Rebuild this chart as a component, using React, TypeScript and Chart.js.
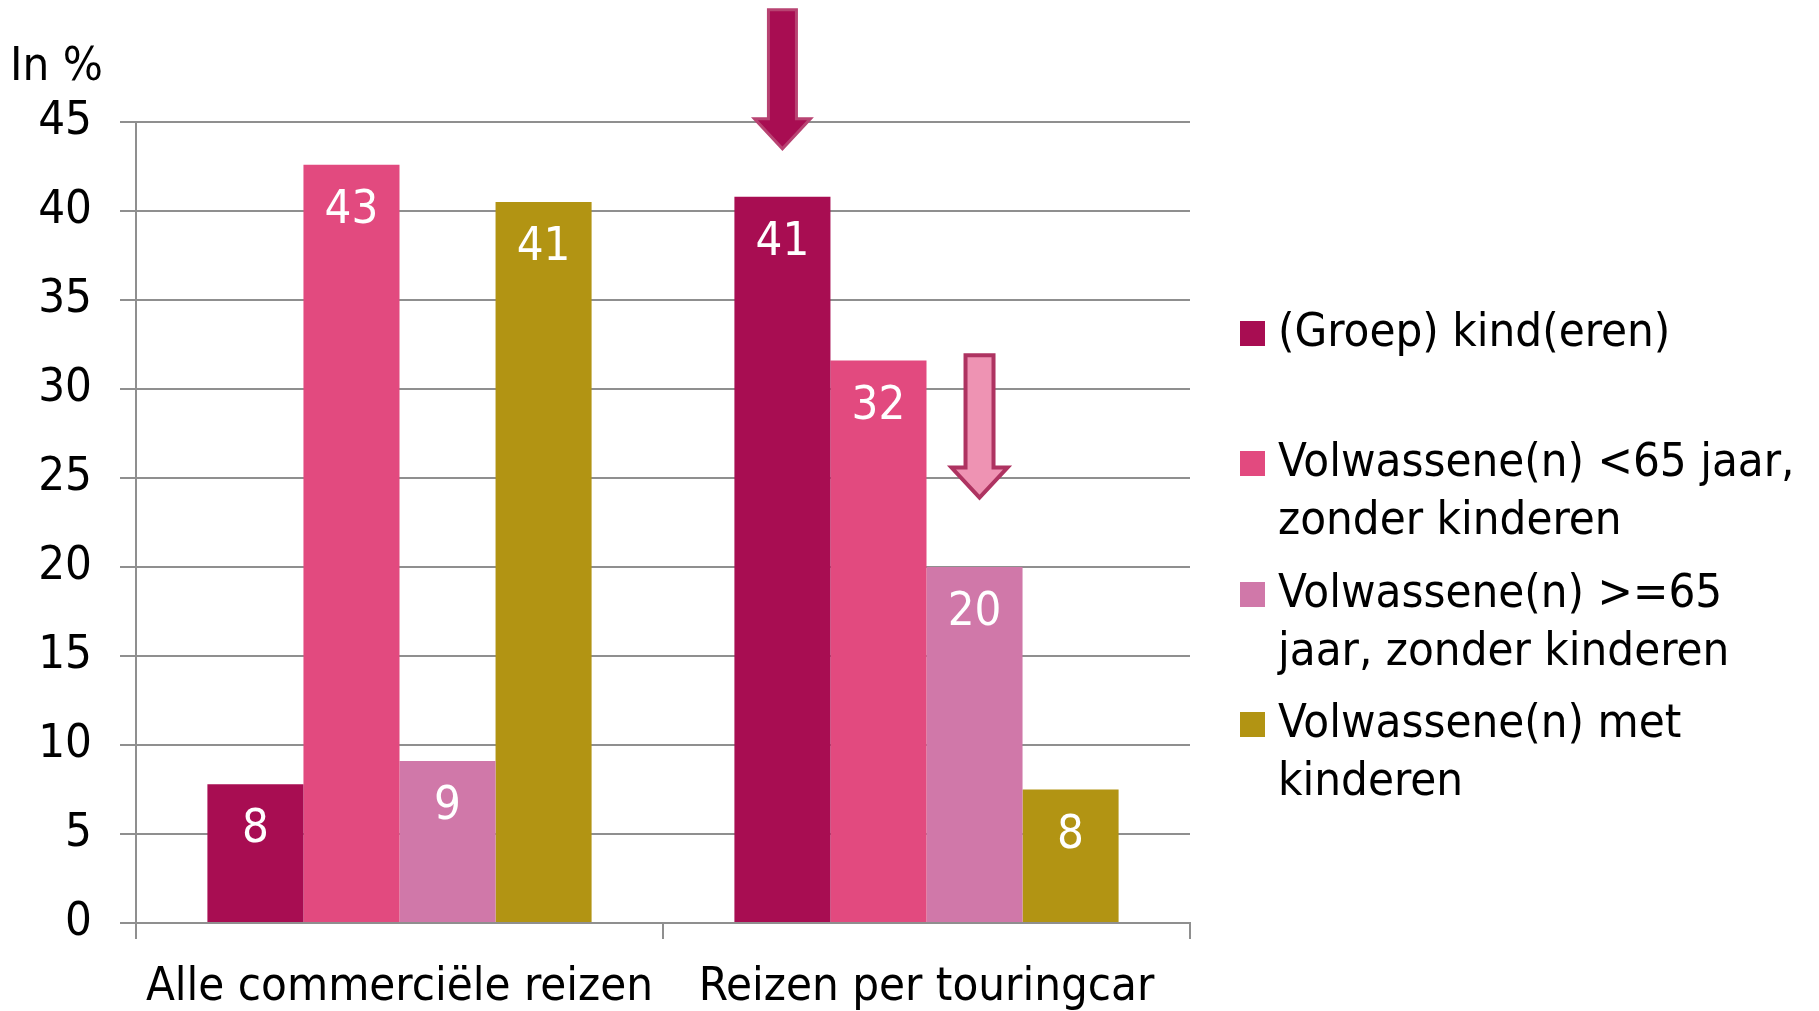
import React, { useEffect, useRef } from "react";
import { Chart, registerables } from "chart.js";

Chart.register(...registerables);

const categories = ["Alle commerciële reizen", "Reizen per touringcar"];
const seriesNames = [
  "(Groep) kind(eren)",
  "Volwassene(n) <65 jaar, zonder kinderen",
  "Volwassene(n) >=65 jaar, zonder kinderen",
  "Volwassene(n) met kinderen",
];
const kinderen = [7.8, 40.8];
const volwassenenOnder65 = [42.6, 31.6];
const volwassenen65Plus = [9.1, 20.0];
const volwassenenMetKinderen = [40.5, 7.5];
const seriesColors = ["#A80D52", "#E24A7F", "#D078A9", "#B29413"];
const legendLines = [
  ["(Groep) kind(eren)"],
  ["Volwassene(n) <65 jaar,", "zonder kinderen"],
  ["Volwassene(n) >=65", "jaar, zonder kinderen"],
  ["Volwassene(n) met", "kinderen"],
];
const yMin = 0;
const yMax = 45;
const yStep = 5;
const yTitle = "In %";
// arrows pointing at bars: dataset index, category index, start value, tip value
const arrowDataset = [0, 2];
const arrowCategory = [1, 1];
const arrowFrom = [51.3, 31.9];
const arrowTo = [43.5, 23.9];
const arrowFill = ["#A80D52", "#EE93B3"];
const arrowStroke = ["#B84372", "#AE3361"];

const FONT = "'DejaVu Sans Condensed', 'Liberation Sans Narrow', 'DejaVu Sans', sans-serif";
const FS = 47;
const GRID = "#8f8f8f";

const overlayPlugin = {
  id: "overlay",
  afterDatasetsDraw(chart: any) {
    const ctx = chart.ctx;
    ctx.save();
    // data labels
    ctx.font = `${FS}px ${FONT}`;
    ctx.fillStyle = "#ffffff";
    ctx.textAlign = "center";
    ctx.textBaseline = "middle";
    chart.data.datasets.forEach((ds: any, di: number) => {
      const meta = chart.getDatasetMeta(di);
      meta.data.forEach((bar: any, i: number) => {
        ctx.fillText(String(Math.round(ds.data[i])), bar.x, bar.y + 46);
      });
    });
    // arrows
    const ys = chart.scales.y;
    for (let a = 0; a < arrowDataset.length; a++) {
      const bar = chart.getDatasetMeta(arrowDataset[a]).data[arrowCategory[a]];
      const cx = bar.x + (a === 1 ? 5 : 0);
      const top = ys.getPixelForValue(arrowFrom[a]);
      const tip = ys.getPixelForValue(arrowTo[a]);
      const hs = tip - 30;
      const sw = 14;
      const hw = 28;
      ctx.beginPath();
      ctx.moveTo(cx - sw, top);
      ctx.lineTo(cx + sw, top);
      ctx.lineTo(cx + sw, hs);
      ctx.lineTo(cx + hw, hs);
      ctx.lineTo(cx, tip);
      ctx.lineTo(cx - hw, hs);
      ctx.lineTo(cx - sw, hs);
      ctx.closePath();
      ctx.fillStyle = arrowFill[a];
      ctx.fill();
      ctx.lineWidth = a === 0 ? 3 : 4;
      ctx.strokeStyle = arrowStroke[a];
      ctx.lineJoin = "miter";
      ctx.stroke();
    }
    // y title
    ctx.fillStyle = "#000000";
    ctx.textAlign = "left";
    ctx.textBaseline = "middle";
    ctx.fillText(yTitle, 10, 68);
    // legend
    const boxX = 1240;
    const textX = 1278;
    const entryY = [334, 464, 595, 725];
    const lh = 58;
    legendLines.forEach((lines, i) => {
      ctx.fillStyle = seriesColors[i];
      ctx.fillRect(boxX, entryY[i] - 13, 25, 25);
      ctx.fillStyle = "#000000";
      lines.forEach((t, j) => ctx.fillText(t, textX, entryY[i] + j * lh));
    });
    ctx.restore();
  },
};

export default function App() {
  const ref = useRef<HTMLCanvasElement | null>(null);
  useEffect(() => {
    if (!ref.current) return;
    const values = [kinderen, volwassenenOnder65, volwassenen65Plus, volwassenenMetKinderen];
    const chart = new Chart(ref.current, {
      type: "bar",
      data: {
        labels: categories,
        datasets: values.map((v, i) => ({
          label: seriesNames[i],
          data: v,
          backgroundColor: seriesColors[i],
          borderWidth: 0,
          barPercentage: 1,
          categoryPercentage: 0.729,
        })),
      },
      options: {
        animation: false,
        responsive: false,
        maintainAspectRatio: false,
        layout: { padding: { top: 122, right: 629, bottom: 0, left: 0 } },
        plugins: { legend: { display: false }, tooltip: { enabled: false } },
        scales: {
          x: {
            afterFit: (s: any) => {
              s.height = 88;
            },
            grid: {
              offset: true,
              drawOnChartArea: false,
              drawTicks: true,
              tickLength: 16,
              color: GRID,
              lineWidth: 2,
            },
            border: { color: GRID, width: 2 },
            ticks: {
              font: { family: FONT, size: FS },
              color: "#000000",
              padding: 21,
              maxRotation: 0,
            },
          },
          y: {
            min: yMin,
            max: yMax,
            afterFit: (s: any) => {
              s.width = 136;
            },
            grid: { color: GRID, lineWidth: 2, tickLength: 16 },
            border: { color: GRID, width: 2 },
            ticks: {
              stepSize: yStep,
              font: { family: FONT, size: FS },
              color: "#000000",
              padding: 28,
            },
          },
        },
      },
      plugins: [overlayPlugin],
    });
    return () => chart.destroy();
  }, []);
  return (
    <div style={{ position: "absolute", left: 0, top: 0, width: 1819, height: 1011, background: "#fff" }}>
      <canvas ref={ref} width={1819} height={1011} style={{ width: 1819, height: 1011 }} />
    </div>
  );
}
